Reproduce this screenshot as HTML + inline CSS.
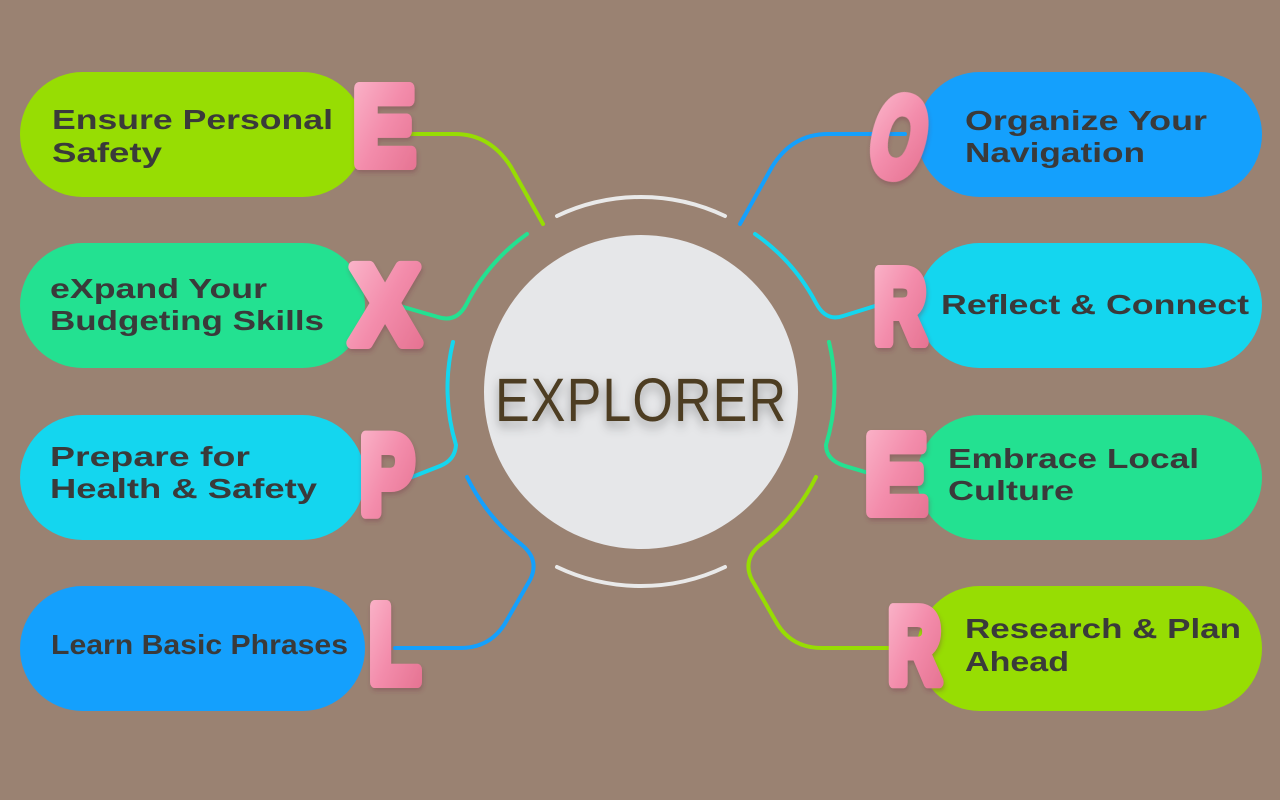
<!DOCTYPE html>
<html>
<head>
<meta charset="utf-8">
<style>
  html,body{margin:0;padding:0;background:#9a8272;}
  svg{display:block;}
  .lbl{font-family:"Liberation Sans",Arial,sans-serif;font-weight:700;font-size:28px;fill:#3a3a3a;}
  .big{font-family:"Liberation Sans",Arial,sans-serif;font-weight:700;fill:url(#pk);stroke:url(#pk);stroke-width:12;stroke-linejoin:round;stroke-linecap:round;paint-order:stroke;filter:url(#ps);}
</style>
</head>
<body>
<svg width="1280" height="800" viewBox="0 0 1280 800" xmlns="http://www.w3.org/2000/svg">
  <defs>
    <linearGradient id="pk" x1="0" y1="0" x2="1" y2="1">
      <stop offset="0" stop-color="#fbb8cc"/>
      <stop offset="0.5" stop-color="#f38cab"/>
      <stop offset="1" stop-color="#e4708f"/>
    </linearGradient>
    <filter id="ps" x="-20%" y="-20%" width="140%" height="140%">
      <feDropShadow dx="1" dy="3" stdDeviation="2" flood-color="#7a3048" flood-opacity="0.35"/>
    </filter>
    <filter id="ts" x="-20%" y="-40%" width="140%" height="180%">
      <feDropShadow dx="0" dy="4" stdDeviation="5" flood-color="#000" flood-opacity="0.35"/>
    </filter>
  </defs>

  <rect width="1280" height="800" fill="#9a8272"/>

  <!-- center circle -->
  <circle cx="641" cy="392" r="157" fill="#e6e7e9"/>
  <g transform="translate(0,421) scale(1,1.18) translate(0,-421)">
    <text x="495" y="421" font-family="'Liberation Sans',Arial,sans-serif" font-size="52" fill="#4e3e24" textLength="291" lengthAdjust="spacing" filter="url(#ts)">EXPLORER</text>
  </g>

  <!-- white arcs -->
  <path d="M557,216 A195,195 0 0 1 725,216" fill="none" stroke="#e9e9e9" stroke-width="4" stroke-linecap="round"/>
  <path d="M557,567 A195,195 0 0 0 725,567" fill="none" stroke="#e9e9e9" stroke-width="4" stroke-linecap="round"/>

  <!-- connectors -->
  <g fill="none" stroke-width="4" stroke-linecap="round" stroke-linejoin="round">
    <path d="M543,224 L511,167 Q490,134 455,134 L385,134" stroke="#97dd03"/>
    <path d="M527,234 A195,195 0 0 0 466,305 Q456,323 438,317 L400,306" stroke="#23e191"/>
    <path d="M453,342 A195,195 0 0 0 456,445 Q455,460 440,466 L412,477" stroke="#14d6ef"/>
    <path d="M467,477 A195,195 0 0 0 522,545 Q540,560 530,580 L507,620 Q492,648 460,648 L395,648" stroke="#14a0fd"/>
    <path d="M740,224 L772,167 Q792,134 828,134 L905,134" stroke="#14a0fd"/>
    <path d="M755,234 A195,195 0 0 1 816,303 Q826,322 843,316 L875,306" stroke="#14d6ef"/>
    <path d="M829,342 A195,195 0 0 1 826,445 Q826,460 845,466 L872,474" stroke="#23e191"/>
    <path d="M816,477 A195,195 0 0 1 760,545 Q742,560 752,580 L775,620 Q790,648 822,648 L890,648" stroke="#97dd03"/>
  </g>

  <!-- pills left -->
  <rect x="20" y="72" width="345" height="125" rx="62.5" fill="#97dd03"/>
  <rect x="20" y="243" width="345" height="125" rx="62.5" fill="#23e191"/>
  <rect x="20" y="415" width="345" height="125" rx="62.5" fill="#14d6ef"/>
  <rect x="20" y="586" width="345" height="125" rx="62.5" fill="#14a0fd"/>
  <!-- pills right -->
  <rect x="917" y="72" width="345" height="125" rx="62.5" fill="#14a0fd"/>
  <rect x="917" y="243" width="345" height="125" rx="62.5" fill="#14d6ef"/>
  <rect x="917" y="415" width="345" height="125" rx="62.5" fill="#23e191"/>
  <rect x="917" y="586" width="345" height="125" rx="62.5" fill="#97dd03"/>

  <!-- labels left -->
  <text class="lbl" x="52" y="129" textLength="281" lengthAdjust="spacingAndGlyphs">Ensure Personal</text>
  <text class="lbl" x="52" y="162" textLength="110" lengthAdjust="spacingAndGlyphs">Safety</text>
  <text class="lbl" x="50" y="298" textLength="217" lengthAdjust="spacingAndGlyphs">eXpand Your</text>
  <text class="lbl" x="50" y="330" textLength="274" lengthAdjust="spacingAndGlyphs">Budgeting Skills</text>
  <text class="lbl" x="50" y="466" textLength="200" lengthAdjust="spacingAndGlyphs">Prepare for</text>
  <text class="lbl" x="50" y="498" textLength="267" lengthAdjust="spacingAndGlyphs">Health &amp; Safety</text>
  <text class="lbl" x="51" y="654" textLength="297" lengthAdjust="spacingAndGlyphs">Learn Basic Phrases</text>

  <!-- labels right -->
  <text class="lbl" x="965" y="130" textLength="242" lengthAdjust="spacingAndGlyphs">Organize Your</text>
  <text class="lbl" x="965" y="162" textLength="180" lengthAdjust="spacingAndGlyphs">Navigation</text>
  <text class="lbl" x="941" y="314" textLength="308" lengthAdjust="spacingAndGlyphs">Reflect &amp; Connect</text>
  <text class="lbl" x="948" y="468" textLength="251" lengthAdjust="spacingAndGlyphs">Embrace Local</text>
  <text class="lbl" x="948" y="500" textLength="126" lengthAdjust="spacingAndGlyphs">Culture</text>
  <text class="lbl" x="965" y="638" textLength="276" lengthAdjust="spacingAndGlyphs">Research &amp; Plan</text>
  <text class="lbl" x="965" y="671" textLength="104" lengthAdjust="spacingAndGlyphs">Ahead</text>

  <!-- pink bubble letters -->
  <text class="big" x="353" y="164" font-size="110" textLength="62" lengthAdjust="spacingAndGlyphs">E</text>
  <text class="big" x="351" y="343" font-size="110" textLength="68" lengthAdjust="spacingAndGlyphs">X</text>
  <text class="big" x="360" y="513" font-size="110" textLength="54" lengthAdjust="spacingAndGlyphs">P</text>
  <text class="big" x="369" y="682" font-size="110" textLength="51" lengthAdjust="spacingAndGlyphs">L</text>
  <text class="big" x="873" y="176" font-size="112" textLength="53" lengthAdjust="spacingAndGlyphs" transform="rotate(14 900 136)">O</text>
  <text class="big" x="874" y="342" font-size="103" textLength="52" lengthAdjust="spacingAndGlyphs">R</text>
  <text class="big" x="865" y="512" font-size="110" textLength="62" lengthAdjust="spacingAndGlyphs">E</text>
  <text class="big" x="888" y="682" font-size="106" textLength="53" lengthAdjust="spacingAndGlyphs">R</text>
</svg>
</body>
</html>
